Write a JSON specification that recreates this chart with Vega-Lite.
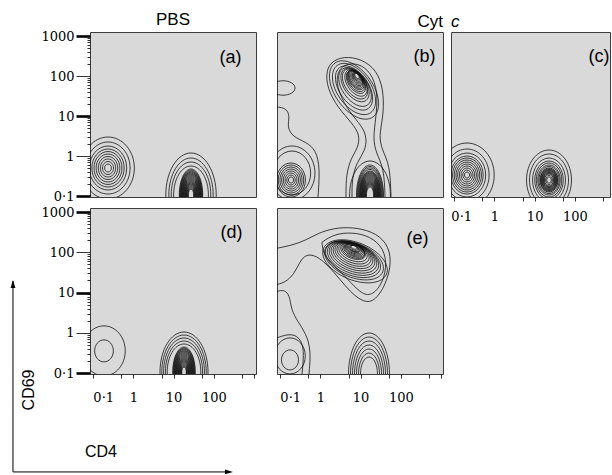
{
  "$schema": "https://vega.github.io/schema/vega-lite/v6.json",
  "background": "white",
  "padding": {"left": 10, "top": 10, "right": 0, "bottom": 0},
  "config": {"view": {"fill": "#d9d9d9", "stroke": "#3c3c3c", "strokeWidth": 1}, "font": "Liberation Sans"},
  "datasets": {
    "rings": [
      {"p":"a","s":"round","x":-0.632,"y":-0.296,"r":0.1},
      {"p":"a","s":"round","x":-0.632,"y":-0.296,"r":0.162},
      {"p":"a","s":"round","x":-0.632,"y":-0.296,"r":0.224},
      {"p":"a","s":"round","x":-0.632,"y":-0.296,"r":0.286},
      {"p":"a","s":"round","x":-0.632,"y":-0.296,"r":0.348},
      {"p":"a","s":"round","x":-0.632,"y":-0.296,"r":0.41},
      {"p":"a","s":"round","x":-0.632,"y":-0.296,"r":0.473},
      {"p":"a","s":"round","x":-0.632,"y":-0.296,"r":0.547},
      {"p":"a","s":"round","x":-0.632,"y":-0.296,"r":0.647},
      {"p":"a","s":"round","x":-0.632,"y":-0.296,"r":0.771},
      {"p":"a","s":"narrow","x":1.433,"y":-0.97,"r":0.149},
      {"p":"a","s":"narrow","x":1.433,"y":-0.97,"r":0.174},
      {"p":"a","s":"narrow","x":1.433,"y":-0.97,"r":0.199},
      {"p":"a","s":"narrow","x":1.433,"y":-0.97,"r":0.224},
      {"p":"a","s":"narrow","x":1.433,"y":-0.97,"r":0.249},
      {"p":"a","s":"narrow","x":1.433,"y":-0.97,"r":0.274},
      {"p":"a","s":"narrow","x":1.433,"y":-0.97,"r":0.299},
      {"p":"a","s":"narrow","x":1.433,"y":-0.97,"r":0.323},
      {"p":"a","s":"narrow","x":1.433,"y":-0.97,"r":0.348},
      {"p":"a","s":"narrow","x":1.433,"y":-0.97,"r":0.373},
      {"p":"a","s":"narrow","x":1.433,"y":-0.97,"r":0.398},
      {"p":"a","s":"narrow","x":1.433,"y":-0.97,"r":0.423},
      {"p":"a","s":"narrow","x":1.433,"y":-0.97,"r":0.448},
      {"p":"a","s":"narrow","x":1.433,"y":-0.97,"r":0.473},
      {"p":"a","s":"narrow","x":1.433,"y":-0.97,"r":0.498},
      {"p":"a","s":"narrow","x":1.433,"y":-0.97,"r":0.522},
      {"p":"a","s":"narrow","x":1.433,"y":-0.97,"r":0.547},
      {"p":"a","s":"narrow","x":1.433,"y":-0.97,"r":0.572},
      {"p":"a","s":"narrow","x":1.433,"y":-0.97,"r":0.597},
      {"p":"a","s":"narrow","x":1.433,"y":-0.97,"r":0.622},
      {"p":"a","s":"narrow","x":1.433,"y":-0.97,"r":0.647},
      {"p":"a","s":"tall","x":1.433,"y":-0.97,"r":0.721},
      {"p":"a","s":"tall","x":1.433,"y":-0.97,"r":0.821},
      {"p":"a","s":"tall","x":1.433,"y":-0.97,"r":0.92},
      {"p":"a","s":"tall","x":1.433,"y":-0.97,"r":1.045},

      {"p":"b","s":"round","x":-0.732,"y":-0.596,"r":0.075},
      {"p":"b","s":"round","x":-0.732,"y":-0.596,"r":0.124},
      {"p":"b","s":"round","x":-0.732,"y":-0.596,"r":0.174},
      {"p":"b","s":"round","x":-0.732,"y":-0.596,"r":0.224},
      {"p":"b","s":"round","x":-0.732,"y":-0.596,"r":0.274},
      {"p":"b","s":"round","x":-0.732,"y":-0.596,"r":0.323},
      {"p":"b","s":"round","x":-0.732,"y":-0.596,"r":0.373},
      {"p":"b","s":"round","x":-0.732,"y":-0.596,"r":0.423},
      {"p":"b","s":"round","x":-0.707,"y":-0.421,"r":0.547},
      {"p":"b","s":"round","x":-0.707,"y":-0.421,"r":0.672},
      {"p":"b","s":"wide","x":-0.931,"y":1.702,"r":0.3},
      {"p":"b","s":"tiltb","x":0.91,"y":2.001,"r":0.075},
      {"p":"b","s":"tiltb","x":0.91,"y":1.99,"r":0.1},
      {"p":"b","s":"tiltb","x":0.91,"y":1.976,"r":0.124},
      {"p":"b","s":"tiltb","x":0.91,"y":1.963,"r":0.149},
      {"p":"b","s":"tiltb","x":0.91,"y":1.951,"r":0.174},
      {"p":"b","s":"tiltb","x":0.898,"y":1.938,"r":0.199},
      {"p":"b","s":"tiltb","x":0.885,"y":1.926,"r":0.224},
      {"p":"b","s":"tiltb","x":0.885,"y":1.913,"r":0.249},
      {"p":"b","s":"tiltb","x":0.885,"y":1.901,"r":0.274},
      {"p":"b","s":"tiltb","x":0.885,"y":1.876,"r":0.299},
      {"p":"b","s":"tiltb","x":0.885,"y":1.851,"r":0.323},
      {"p":"b","s":"tiltb","x":0.885,"y":1.827,"r":0.373},
      {"p":"b","s":"tiltb","x":0.861,"y":1.802,"r":0.423},
      {"p":"b","s":"tiltb","x":0.861,"y":1.777,"r":0.473},
      {"p":"b","s":"tiltb","x":0.861,"y":1.727,"r":0.547},
      {"p":"b","s":"tiltb","x":0.836,"y":1.702,"r":0.622},
      {"p":"b","s":"tiltb","x":0.836,"y":1.677,"r":0.721},
      {"p":"b","s":"tiltb","x":0.836,"y":1.652,"r":0.821},
      {"p":"b","s":"narrow","x":1.234,"y":-0.97,"r":0.199},
      {"p":"b","s":"narrow","x":1.234,"y":-0.97,"r":0.224},
      {"p":"b","s":"narrow","x":1.234,"y":-0.97,"r":0.249},
      {"p":"b","s":"narrow","x":1.234,"y":-0.97,"r":0.274},
      {"p":"b","s":"narrow","x":1.234,"y":-0.97,"r":0.299},
      {"p":"b","s":"narrow","x":1.234,"y":-0.97,"r":0.323},
      {"p":"b","s":"narrow","x":1.234,"y":-0.97,"r":0.348},
      {"p":"b","s":"narrow","x":1.234,"y":-0.97,"r":0.373},
      {"p":"b","s":"narrow","x":1.234,"y":-0.97,"r":0.398},
      {"p":"b","s":"narrow","x":1.234,"y":-0.97,"r":0.423},
      {"p":"b","s":"narrow","x":1.234,"y":-0.97,"r":0.448},
      {"p":"b","s":"narrow","x":1.234,"y":-0.97,"r":0.473},
      {"p":"b","s":"narrow","x":1.234,"y":-0.97,"r":0.498},
      {"p":"b","s":"narrow","x":1.234,"y":-0.97,"r":0.522},
      {"p":"b","s":"narrow","x":1.234,"y":-0.97,"r":0.547},
      {"p":"b","s":"narrow","x":1.234,"y":-0.97,"r":0.572},
      {"p":"b","s":"narrow","x":1.234,"y":-0.97,"r":0.597},
      {"p":"b","s":"narrow","x":1.234,"y":-0.97,"r":0.634},
      {"p":"b","s":"narrow","x":1.234,"y":-0.97,"r":0.672},
      {"p":"b","s":"narrow","x":1.234,"y":-0.97,"r":0.709},
      {"p":"b","s":"narrow","x":1.234,"y":-0.97,"r":0.746},
      {"p":"b","s":"tall","x":1.234,"y":-0.97,"r":0.846},

      {"p":"c","s":"round","x":-0.682,"y":-0.471,"r":0.075},
      {"p":"c","s":"round","x":-0.682,"y":-0.471,"r":0.124},
      {"p":"c","s":"round","x":-0.682,"y":-0.471,"r":0.174},
      {"p":"c","s":"round","x":-0.682,"y":-0.471,"r":0.224},
      {"p":"c","s":"round","x":-0.682,"y":-0.471,"r":0.274},
      {"p":"c","s":"round","x":-0.682,"y":-0.471,"r":0.323},
      {"p":"c","s":"round","x":-0.682,"y":-0.471,"r":0.373},
      {"p":"c","s":"round","x":-0.682,"y":-0.471,"r":0.423},
      {"p":"c","s":"round","x":-0.682,"y":-0.471,"r":0.473},
      {"p":"c","s":"round","x":-0.682,"y":-0.471,"r":0.547},
      {"p":"c","s":"round","x":-0.682,"y":-0.471,"r":0.647},
      {"p":"c","s":"round","x":-0.682,"y":-0.471,"r":0.796},
      {"p":"c","s":"mid","x":1.358,"y":-0.596,"r":0.075},
      {"p":"c","s":"mid","x":1.358,"y":-0.596,"r":0.112},
      {"p":"c","s":"mid","x":1.358,"y":-0.596,"r":0.149},
      {"p":"c","s":"mid","x":1.358,"y":-0.596,"r":0.168},
      {"p":"c","s":"mid","x":1.358,"y":-0.596,"r":0.187},
      {"p":"c","s":"mid","x":1.358,"y":-0.596,"r":0.205},
      {"p":"c","s":"mid","x":1.358,"y":-0.596,"r":0.224},
      {"p":"c","s":"mid","x":1.358,"y":-0.596,"r":0.243},
      {"p":"c","s":"mid","x":1.358,"y":-0.596,"r":0.261},
      {"p":"c","s":"mid","x":1.358,"y":-0.596,"r":0.28},
      {"p":"c","s":"mid","x":1.358,"y":-0.596,"r":0.299},
      {"p":"c","s":"mid","x":1.358,"y":-0.596,"r":0.336},
      {"p":"c","s":"mid","x":1.358,"y":-0.596,"r":0.373},
      {"p":"c","s":"mid","x":1.358,"y":-0.596,"r":0.423},
      {"p":"c","s":"mid","x":1.358,"y":-0.596,"r":0.473},
      {"p":"c","s":"mid","x":1.358,"y":-0.596,"r":0.547},
      {"p":"c","s":"mid","x":1.358,"y":-0.596,"r":0.647},
      {"p":"c","s":"mid","x":1.358,"y":-0.596,"r":0.746},

      {"p":"d","s":"round","x":-0.732,"y":-0.446,"r":0.274},
      {"p":"d","s":"round","x":-0.732,"y":-0.446,"r":0.622},
      {"p":"d","s":"narrow","x":1.259,"y":-0.97,"r":0.124},
      {"p":"d","s":"narrow","x":1.259,"y":-0.97,"r":0.149},
      {"p":"d","s":"narrow","x":1.259,"y":-0.97,"r":0.174},
      {"p":"d","s":"narrow","x":1.259,"y":-0.97,"r":0.199},
      {"p":"d","s":"narrow","x":1.259,"y":-0.97,"r":0.224},
      {"p":"d","s":"narrow","x":1.259,"y":-0.97,"r":0.249},
      {"p":"d","s":"narrow","x":1.259,"y":-0.97,"r":0.274},
      {"p":"d","s":"narrow","x":1.259,"y":-0.97,"r":0.299},
      {"p":"d","s":"narrow","x":1.259,"y":-0.97,"r":0.323},
      {"p":"d","s":"narrow","x":1.259,"y":-0.97,"r":0.348},
      {"p":"d","s":"narrow","x":1.259,"y":-0.97,"r":0.373},
      {"p":"d","s":"narrow","x":1.259,"y":-0.97,"r":0.398},
      {"p":"d","s":"narrow","x":1.259,"y":-0.97,"r":0.423},
      {"p":"d","s":"narrow","x":1.259,"y":-0.97,"r":0.448},
      {"p":"d","s":"narrow","x":1.259,"y":-0.97,"r":0.473},
      {"p":"d","s":"narrow","x":1.259,"y":-0.97,"r":0.498},
      {"p":"d","s":"narrow","x":1.259,"y":-0.97,"r":0.522},
      {"p":"d","s":"narrow","x":1.259,"y":-0.97,"r":0.547},
      {"p":"d","s":"narrow","x":1.259,"y":-0.97,"r":0.572},
      {"p":"d","s":"narrow","x":1.259,"y":-0.97,"r":0.597},
      {"p":"d","s":"narrow","x":1.259,"y":-0.97,"r":0.622},
      {"p":"d","s":"tall","x":1.259,"y":-0.97,"r":0.697},
      {"p":"d","s":"tall","x":1.259,"y":-0.97,"r":0.771},
      {"p":"d","s":"tall","x":1.259,"y":-0.97,"r":0.846},
      {"p":"d","s":"tall","x":1.259,"y":-0.97,"r":0.92},
      {"p":"d","s":"tall","x":1.259,"y":-0.97,"r":0.995},

      {"p":"e","s":"tilte","x":0.836,"y":2.126,"r":0.075},
      {"p":"e","s":"tilte","x":0.836,"y":2.113,"r":0.1},
      {"p":"e","s":"tilte","x":0.836,"y":2.101,"r":0.124},
      {"p":"e","s":"tilte","x":0.836,"y":2.101,"r":0.149},
      {"p":"e","s":"tilte","x":0.836,"y":2.101,"r":0.174},
      {"p":"e","s":"tilte","x":0.836,"y":2.088,"r":0.199},
      {"p":"e","s":"tilte","x":0.836,"y":2.076,"r":0.224},
      {"p":"e","s":"tilte","x":0.836,"y":2.063,"r":0.249},
      {"p":"e","s":"tilte","x":0.836,"y":2.051,"r":0.274},
      {"p":"e","s":"tilte","x":0.823,"y":2.038,"r":0.299},
      {"p":"e","s":"tilte","x":0.811,"y":2.026,"r":0.323},
      {"p":"e","s":"tilte","x":0.811,"y":2.001,"r":0.373},
      {"p":"e","s":"tilte","x":0.811,"y":1.976,"r":0.423},
      {"p":"e","s":"tilte","x":0.811,"y":1.951,"r":0.473},
      {"p":"e","s":"tilte","x":0.811,"y":1.926,"r":0.522},
      {"p":"e","s":"tilte","x":0.811,"y":1.901,"r":0.572},
      {"p":"e","s":"tilte","x":0.811,"y":1.876,"r":0.622},
      {"p":"e","s":"tilte","x":0.811,"y":1.852,"r":0.672},
      {"p":"e","s":"tilte","x":0.811,"y":1.827,"r":0.721},
      {"p":"e","s":"tilte","x":0.836,"y":1.802,"r":0.771},
      {"p":"e","s":"tilte","x":0.861,"y":1.777,"r":0.846},
      {"p":"e","s":"round","x":-0.757,"y":-0.67,"r":0.249},
      {"p":"e","s":"round","x":-0.757,"y":-0.571,"r":0.448},
      {"p":"e","s":"half","x":1.209,"y":-1.02,"r":0.423},
      {"p":"e","s":"half","x":1.209,"y":-1.02,"r":0.522},
      {"p":"e","s":"half","x":1.209,"y":-1.02,"r":0.622},
      {"p":"e","s":"half","x":1.209,"y":-1.02,"r":0.721},
      {"p":"e","s":"half","x":1.209,"y":-1.02,"r":0.821},
      {"p":"e","s":"half","x":1.209,"y":-1.02,"r":0.92},
      {"p":"e","s":"half","x":1.209,"y":-1.02,"r":1.02}
    ],
    "paths": [
      {"p":"b","id":"b1","i":0,"x":0.637,"y":-1.02},
      {"p":"b","id":"b1","i":1,"x":0.637,"y":-0.471},
      {"p":"b","id":"b1","i":2,"x":0.761,"y":-0.046},
      {"p":"b","id":"b1","i":3,"x":0.935,"y":0.204},
      {"p":"b","id":"b1","i":4,"x":0.985,"y":0.528},
      {"p":"b","id":"b1","i":5,"x":0.786,"y":0.828},
      {"p":"b","id":"b1","i":6,"x":0.438,"y":1.202},
      {"p":"b","id":"b1","i":7,"x":0.164,"y":1.702},
      {"p":"b","id":"b1","i":8,"x":0.139,"y":2.151},
      {"p":"b","id":"b1","i":9,"x":0.313,"y":2.401},
      {"p":"b","id":"b1","i":10,"x":0.686,"y":2.501},
      {"p":"b","id":"b1","i":11,"x":1.134,"y":2.376},
      {"p":"b","id":"b1","i":12,"x":1.458,"y":2.051},
      {"p":"b","id":"b1","i":13,"x":1.582,"y":1.527},
      {"p":"b","id":"b1","i":14,"x":1.557,"y":0.953},
      {"p":"b","id":"b1","i":15,"x":1.458,"y":0.503},
      {"p":"b","id":"b1","i":16,"x":1.532,"y":0.154},
      {"p":"b","id":"b1","i":17,"x":1.731,"y":-0.221},
      {"p":"b","id":"b1","i":18,"x":1.756,"y":-1.02},
      {"p":"b","id":"b2","i":0,"x":0.786,"y":-1.02},
      {"p":"b","id":"b2","i":1,"x":0.786,"y":-0.546},
      {"p":"b","id":"b2","i":2,"x":0.91,"y":-0.146},
      {"p":"b","id":"b2","i":3,"x":1.109,"y":0.129},
      {"p":"b","id":"b2","i":4,"x":1.159,"y":0.453},
      {"p":"b","id":"b2","i":5,"x":1.035,"y":0.753},
      {"p":"b","id":"b2","i":6,"x":0.736,"y":1.077},
      {"p":"b","id":"b2","i":7,"x":0.438,"y":1.602},
      {"p":"b","id":"b2","i":8,"x":0.388,"y":2.051},
      {"p":"b","id":"b2","i":9,"x":0.587,"y":2.301},
      {"p":"b","id":"b2","i":10,"x":0.935,"y":2.326},
      {"p":"b","id":"b2","i":11,"x":1.259,"y":2.101},
      {"p":"b","id":"b2","i":12,"x":1.433,"y":1.602},
      {"p":"b","id":"b2","i":13,"x":1.383,"y":0.953},
      {"p":"b","id":"b2","i":14,"x":1.308,"y":0.453},
      {"p":"b","id":"b2","i":15,"x":1.383,"y":0.079},
      {"p":"b","id":"b2","i":16,"x":1.582,"y":-0.296},
      {"p":"b","id":"b2","i":17,"x":1.607,"y":-1.02},
      {"p":"b","id":"b3","i":0,"x":-1.08,"y":1.227},
      {"p":"b","id":"b3","i":1,"x":-0.856,"y":1.202},
      {"p":"b","id":"b3","i":2,"x":-0.757,"y":1.003},
      {"p":"b","id":"b3","i":3,"x":-0.831,"y":0.728},
      {"p":"b","id":"b3","i":4,"x":-0.682,"y":0.478},
      {"p":"b","id":"b3","i":5,"x":-0.358,"y":0.353},
      {"p":"b","id":"b3","i":6,"x":-0.11,"y":0.154},
      {"p":"b","id":"b3","i":7,"x":-0.01,"y":-0.296},
      {"p":"b","id":"b3","i":8,"x":-0.06,"y":-1.02},
      {"p":"e","id":"e1","i":0,"x":-1.08,"y":2.101},
      {"p":"e","id":"e1","i":1,"x":-0.707,"y":2.176},
      {"p":"e","id":"e1","i":2,"x":-0.358,"y":2.301},
      {"p":"e","id":"e1","i":3,"x":-0.06,"y":2.476},
      {"p":"e","id":"e1","i":4,"x":0.338,"y":2.601},
      {"p":"e","id":"e1","i":5,"x":0.786,"y":2.626},
      {"p":"e","id":"e1","i":6,"x":1.284,"y":2.526},
      {"p":"e","id":"e1","i":7,"x":1.657,"y":2.251},
      {"p":"e","id":"e1","i":8,"x":1.781,"y":1.777},
      {"p":"e","id":"e1","i":9,"x":1.632,"y":1.202},
      {"p":"e","id":"e1","i":10,"x":1.333,"y":0.753},
      {"p":"e","id":"e1","i":11,"x":1.035,"y":0.778},
      {"p":"e","id":"e1","i":12,"x":0.736,"y":1.028},
      {"p":"e","id":"e1","i":13,"x":0.487,"y":1.327},
      {"p":"e","id":"e1","i":14,"x":0.189,"y":1.677},
      {"p":"e","id":"e1","i":15,"x":-0.11,"y":1.926},
      {"p":"e","id":"e1","i":16,"x":-0.358,"y":1.951},
      {"p":"e","id":"e1","i":17,"x":-0.508,"y":1.777},
      {"p":"e","id":"e1","i":18,"x":-0.657,"y":1.452},
      {"p":"e","id":"e1","i":19,"x":-0.881,"y":1.252},
      {"p":"e","id":"e1","i":20,"x":-1.08,"y":1.202},
      {"p":"e","id":"e2","i":0,"x":0.04,"y":2.251},
      {"p":"e","id":"e2","i":1,"x":0.338,"y":2.451},
      {"p":"e","id":"e2","i":2,"x":0.786,"y":2.501},
      {"p":"e","id":"e2","i":3,"x":1.234,"y":2.401},
      {"p":"e","id":"e2","i":4,"x":1.582,"y":2.101},
      {"p":"e","id":"e2","i":5,"x":1.657,"y":1.627},
      {"p":"e","id":"e2","i":6,"x":1.507,"y":1.152},
      {"p":"e","id":"e2","i":7,"x":1.234,"y":0.903},
      {"p":"e","id":"e2","i":8,"x":0.985,"y":1.003},
      {"p":"e","id":"e2","i":9,"x":0.686,"y":1.327},
      {"p":"e","id":"e2","i":10,"x":0.338,"y":1.677},
      {"p":"e","id":"e2","i":11,"x":0.065,"y":1.951},
      {"p":"e","id":"e2","i":12,"x":0.04,"y":2.251},
      {"p":"e","id":"e3","i":0,"x":-1.08,"y":1.028},
      {"p":"e","id":"e3","i":1,"x":-0.906,"y":1.077},
      {"p":"e","id":"e3","i":2,"x":-0.757,"y":0.928},
      {"p":"e","id":"e3","i":3,"x":-0.732,"y":0.578},
      {"p":"e","id":"e3","i":4,"x":-0.558,"y":0.278},
      {"p":"e","id":"e3","i":5,"x":-0.358,"y":-0.021},
      {"p":"e","id":"e3","i":6,"x":-0.234,"y":-0.421},
      {"p":"e","id":"e3","i":7,"x":-0.284,"y":-1.02},
      {"p":"e","id":"e4","i":0,"x":-1.08,"y":-0.121},
      {"p":"e","id":"e4","i":1,"x":-0.707,"y":0.004},
      {"p":"e","id":"e4","i":2,"x":-0.458,"y":-0.171},
      {"p":"e","id":"e4","i":3,"x":-0.408,"y":-0.546},
      {"p":"e","id":"e4","i":4,"x":-0.458,"y":-1.02}
    ],
    "tags": [
      {"p":"a","x":2.416,"y":2.451,"t":"(a)"},
      {"p":"b","x":2.59,"y":2.476,"t":"(b)"},
      {"p":"c","x":2.6,"y":2.476,"t":"(c)"},
      {"p":"d","x":2.44,"y":2.476,"t":"(d)"},
      {"p":"e","x":2.416,"y":2.338,"t":"(e)"}
    ],
    "arrows": [
      {"ax":-0.464,"ay":-0.59,"ax2":-0.464,"ay2":0.56},
      {"ax":-0.464,"ay":-0.59,"ax2":0.84,"ay2":-0.59}
    ],
    "heads": [
      {"ax":-0.464,"ay":0.542,"dir":"up"},
      {"ax":0.837,"ay":-0.59,"dir":"right"}
    ],
    "words": [
      {"ax":-0.367,"ay":-0.096,"t":"CD69","o":"v"},
      {"ax":0.066,"ay":-0.47,"t":"CD4","o":"h"}
    ]
  },
  "hconcat": [
    {
      "vconcat": [
        {
          "width": 166, "height": 165,
          "title": {"text": "PBS", "font": "Liberation Sans", "fontSize": 17, "fontWeight": "normal", "color": "#000", "anchor": "middle", "baseline": "alphabetic", "offset": -12},
          "layer": [
            {
              "data": {"name": "rings"}, "transform": [{"filter": "datum.p == 'a'"}],
              "mark": {"type": "point", "filled": false, "stroke": "#111", "strokeWidth": 0.8, "opacity": 1, "clip": true},
              "encoding": {
                "x": {"field": "x", "type": "quantitative", "scale": {"domain": [-1.08, 3.05], "nice": false, "zero": false}, "axis": null},
                "y": {"field": "y", "type": "quantitative", "scale": {"domain": [-1.02, 3.1], "nice": false, "zero": false},
                  "axis": {"values": [-1,-0.699,-0.523,-0.398,-0.301,-0.222,-0.155,-0.097,-0.046,0,0.301,0.477,0.602,0.699,0.778,0.845,0.903,0.954,1,1.301,1.477,1.602,1.699,1.778,1.845,1.903,1.954,2,2.301,2.477,2.602,2.699,2.778,2.845,2.903,2.954,3],
                    "labelExpr": "datum.value == -1 ? '0·1' : datum.value == 0 ? '1' : datum.value == 1 ? '10' : datum.value == 2 ? '100' : datum.value == 3 ? '1000' : ''",
                    "tickSize": {"condition": {"test": "datum.value == -1 || datum.value == 0 || datum.value == 1 || datum.value == 2 || datum.value == 3", "value": 14}, "value": 3},
                    "tickWidth": {"condition": {"test": "datum.value == -1 || datum.value == 1 || datum.value == 3", "value": 2.6}, "value": 0.8},
                    "tickColor": "#000", "labelPadding": 2, "labelFont": "DejaVu Serif", "labelFontSize": 13, "labelColor": "#000",
                    "domain": false, "grid": false, "title": null, "labelOverlap": false, "labelBound": false, "labelFlush": false}},
                "size": {"field": "r", "type": "quantitative", "scale": {"type": "pow", "exponent": 2, "domain": [0, 1], "range": [0, 6464]}, "legend": null},
                "shape": {"field": "s", "type": "nominal", "legend": null, "scale": {"domain": ["round","tall","tiltb","tilte","wide","mid","narrow","half"], "range": [
                  "M0.85,0C0.85,0.552,0.469,1,0,1C-0.469,1,-0.85,0.552,-0.85,0C-0.85,-0.552,-0.469,-1,0,-1C0.469,-1,0.85,-0.552,0.85,0Z",
                  "M0.6,0C0.6,0.552,0.331,1,0,1C-0.331,1,-0.6,0.552,-0.6,0C-0.6,-0.552,-0.331,-1,0,-1C0.331,-1,0.6,-0.552,0.6,0Z",
                  "M0.574,0.819C0.312,1.003,-0.158,0.785,-0.475,0.333C-0.792,-0.119,-0.836,-0.635,-0.574,-0.819C-0.312,-1.003,0.158,-0.785,0.475,-0.333C0.792,0.119,0.836,0.635,0.574,0.819Z",
                  "M0.927,0.375C0.813,0.657,0.306,0.717,-0.206,0.51C-0.718,0.303,-1.041,-0.093,-0.927,-0.375C-0.813,-0.657,-0.306,-0.717,0.206,-0.51C0.718,-0.303,1.041,0.093,0.927,0.375Z",
                  "M1,0C1,0.331,0.552,0.6,0,0.6C-0.552,0.6,-1,0.331,-1,0C-1,-0.331,-0.552,-0.6,0,-0.6C0.552,-0.6,1,-0.331,1,0Z",
                  "M0.75,0C0.75,0.552,0.414,1,0,1C-0.414,1,-0.75,0.552,-0.75,0C-0.75,-0.552,-0.414,-1,0,-1C0.414,-1,0.75,-0.552,0.75,0Z",
                  "M0.45,0C0.45,0.552,0.249,1,0,1C-0.249,1,-0.45,0.552,-0.45,0C-0.45,-0.552,-0.249,-1,0,-1C0.249,-1,0.45,-0.552,0.45,0Z",
                  "M0.5,0C0.5,0.552,0.276,1,0,1C-0.276,1,-0.5,0.552,-0.5,0C-0.5,-0.552,-0.276,-1,0,-1C0.276,-1,0.5,-0.552,0.5,0Z"]}}
              }
            },
            {
              "data": {"name": "tags"}, "transform": [{"filter": "datum.p == 'a'"}],
              "mark": {"type": "text", "font": "Liberation Sans", "fontSize": 18, "align": "center", "baseline": "middle", "color": "#000"},
              "encoding": {
                "x": {"field": "x", "type": "quantitative", "scale": {"domain": [-1.08, 3.05], "nice": false, "zero": false}, "axis": null},
                "y": {"field": "y", "type": "quantitative", "scale": {"domain": [-1.02, 3.1], "nice": false, "zero": false},
                  "axis": {"values": [-1,-0.699,-0.523,-0.398,-0.301,-0.222,-0.155,-0.097,-0.046,0,0.301,0.477,0.602,0.699,0.778,0.845,0.903,0.954,1,1.301,1.477,1.602,1.699,1.778,1.845,1.903,1.954,2,2.301,2.477,2.602,2.699,2.778,2.845,2.903,2.954,3],
                    "labelExpr": "datum.value == -1 ? '0·1' : datum.value == 0 ? '1' : datum.value == 1 ? '10' : datum.value == 2 ? '100' : datum.value == 3 ? '1000' : ''",
                    "tickSize": {"condition": {"test": "datum.value == -1 || datum.value == 0 || datum.value == 1 || datum.value == 2 || datum.value == 3", "value": 14}, "value": 3},
                    "tickWidth": {"condition": {"test": "datum.value == -1 || datum.value == 1 || datum.value == 3", "value": 2.6}, "value": 0.8},
                    "tickColor": "#000", "labelPadding": 2, "labelFont": "DejaVu Serif", "labelFontSize": 13, "labelColor": "#000",
                    "domain": false, "grid": false, "title": null, "labelOverlap": false, "labelBound": false, "labelFlush": false}},
                "text": {"field": "t"}
              }
            }
          ]
        },
        {
          "width": 166, "height": 166,
          "layer": [
            {
              "layer": [
                {
                  "data": {"name": "rings"}, "transform": [{"filter": "datum.p == 'd'"}],
                  "mark": {"type": "point", "filled": false, "stroke": "#111", "strokeWidth": 0.8, "opacity": 1, "clip": true},
                  "encoding": {
                    "x": {"field": "x", "type": "quantitative", "scale": {"domain": [-1.08, 3.05], "nice": false, "zero": false},
                      "axis": {"values": [-1,-0.301,0,0.699,1,1.699,2,2.699,3],
                        "labelExpr": "datum.value == -1 ? '0·1' : datum.value == 0 ? '1' : datum.value == 1 ? '10' : datum.value == 2 ? '100' : ''",
                        "tickSize": 4, "tickWidth": 0.8, "tickColor": "#000", "labelPadding": 13,
                        "labelOffset": {"condition": {"test": "datum.value == -1", "value": 10}, "value": 0},
                        "labelFont": "DejaVu Serif", "labelFontSize": 13, "labelColor": "#000",
                        "domain": false, "grid": false, "title": null, "labelOverlap": false, "labelBound": false, "labelFlush": false}},
                    "y": {"field": "y", "type": "quantitative", "scale": {"domain": [-1.02, 3.1], "nice": false, "zero": false},
                      "axis": {"values": [-1,-0.699,-0.523,-0.398,-0.301,-0.222,-0.155,-0.097,-0.046,0,0.301,0.477,0.602,0.699,0.778,0.845,0.903,0.954,1,1.301,1.477,1.602,1.699,1.778,1.845,1.903,1.954,2,2.301,2.477,2.602,2.699,2.778,2.845,2.903,2.954,3],
                        "labelExpr": "datum.value == -1 ? '0·1' : datum.value == 0 ? '1' : datum.value == 1 ? '10' : datum.value == 2 ? '100' : datum.value == 3 ? '1000' : ''",
                        "tickSize": {"condition": {"test": "datum.value == -1 || datum.value == 0 || datum.value == 1 || datum.value == 2 || datum.value == 3", "value": 14}, "value": 3},
                        "tickWidth": {"condition": {"test": "datum.value == -1 || datum.value == 1 || datum.value == 3", "value": 2.6}, "value": 0.8},
                        "tickColor": "#000", "labelPadding": 2, "labelFont": "DejaVu Serif", "labelFontSize": 13, "labelColor": "#000",
                        "domain": false, "grid": false, "title": null, "labelOverlap": false, "labelBound": false, "labelFlush": false}},
                    "size": {"field": "r", "type": "quantitative", "scale": {"type": "pow", "exponent": 2, "domain": [0, 1], "range": [0, 6464]}, "legend": null},
                    "shape": {"field": "s", "type": "nominal", "legend": null, "scale": {"domain": ["round","tall","tiltb","tilte","wide","mid","narrow","half"], "range": [
                      "M0.85,0C0.85,0.552,0.469,1,0,1C-0.469,1,-0.85,0.552,-0.85,0C-0.85,-0.552,-0.469,-1,0,-1C0.469,-1,0.85,-0.552,0.85,0Z",
                      "M0.6,0C0.6,0.552,0.331,1,0,1C-0.331,1,-0.6,0.552,-0.6,0C-0.6,-0.552,-0.331,-1,0,-1C0.331,-1,0.6,-0.552,0.6,0Z",
                      "M0.574,0.819C0.312,1.003,-0.158,0.785,-0.475,0.333C-0.792,-0.119,-0.836,-0.635,-0.574,-0.819C-0.312,-1.003,0.158,-0.785,0.475,-0.333C0.792,0.119,0.836,0.635,0.574,0.819Z",
                      "M0.927,0.375C0.813,0.657,0.306,0.717,-0.206,0.51C-0.718,0.303,-1.041,-0.093,-0.927,-0.375C-0.813,-0.657,-0.306,-0.717,0.206,-0.51C0.718,-0.303,1.041,0.093,0.927,0.375Z",
                      "M1,0C1,0.331,0.552,0.6,0,0.6C-0.552,0.6,-1,0.331,-1,0C-1,-0.331,-0.552,-0.6,0,-0.6C0.552,-0.6,1,-0.331,1,0Z",
                      "M0.75,0C0.75,0.552,0.414,1,0,1C-0.414,1,-0.75,0.552,-0.75,0C-0.75,-0.552,-0.414,-1,0,-1C0.414,-1,0.75,-0.552,0.75,0Z",
                      "M0.45,0C0.45,0.552,0.249,1,0,1C-0.249,1,-0.45,0.552,-0.45,0C-0.45,-0.552,-0.249,-1,0,-1C0.249,-1,0.45,-0.552,0.45,0Z",
                      "M0.5,0C0.5,0.552,0.276,1,0,1C-0.276,1,-0.5,0.552,-0.5,0C-0.5,-0.552,-0.276,-1,0,-1C0.276,-1,0.5,-0.552,0.5,0Z"]}}
                  }
                },
                {
                  "data": {"name": "tags"}, "transform": [{"filter": "datum.p == 'd'"}],
                  "mark": {"type": "text", "font": "Liberation Sans", "fontSize": 18, "align": "center", "baseline": "middle", "color": "#000"},
                  "encoding": {
                    "x": {"field": "x", "type": "quantitative", "scale": {"domain": [-1.08, 3.05], "nice": false, "zero": false},
                      "axis": {"values": [-1,-0.301,0,0.699,1,1.699,2,2.699,3],
                        "labelExpr": "datum.value == -1 ? '0·1' : datum.value == 0 ? '1' : datum.value == 1 ? '10' : datum.value == 2 ? '100' : ''",
                        "tickSize": 4, "tickWidth": 0.8, "tickColor": "#000", "labelPadding": 13,
                        "labelOffset": {"condition": {"test": "datum.value == -1", "value": 10}, "value": 0},
                        "labelFont": "DejaVu Serif", "labelFontSize": 13, "labelColor": "#000",
                        "domain": false, "grid": false, "title": null, "labelOverlap": false, "labelBound": false, "labelFlush": false}},
                    "y": {"field": "y", "type": "quantitative", "scale": {"domain": [-1.02, 3.1], "nice": false, "zero": false},
                      "axis": {"values": [-1,-0.699,-0.523,-0.398,-0.301,-0.222,-0.155,-0.097,-0.046,0,0.301,0.477,0.602,0.699,0.778,0.845,0.903,0.954,1,1.301,1.477,1.602,1.699,1.778,1.845,1.903,1.954,2,2.301,2.477,2.602,2.699,2.778,2.845,2.903,2.954,3],
                        "labelExpr": "datum.value == -1 ? '0·1' : datum.value == 0 ? '1' : datum.value == 1 ? '10' : datum.value == 2 ? '100' : datum.value == 3 ? '1000' : ''",
                        "tickSize": {"condition": {"test": "datum.value == -1 || datum.value == 0 || datum.value == 1 || datum.value == 2 || datum.value == 3", "value": 14}, "value": 3},
                        "tickWidth": {"condition": {"test": "datum.value == -1 || datum.value == 1 || datum.value == 3", "value": 2.6}, "value": 0.8},
                        "tickColor": "#000", "labelPadding": 2, "labelFont": "DejaVu Serif", "labelFontSize": 13, "labelColor": "#000",
                        "domain": false, "grid": false, "title": null, "labelOverlap": false, "labelBound": false, "labelFlush": false}},
                    "text": {"field": "t"}
                  }
                }
              ]
            },
            {
              "layer": [
                {
                  "data": {"name": "arrows"},
                  "mark": {"type": "rule", "color": "#000", "strokeWidth": 1},
                  "encoding": {
                    "x": {"field": "ax", "type": "quantitative", "scale": {"domain": [0, 1], "nice": false, "zero": false}, "axis": null},
                    "y": {"field": "ay", "type": "quantitative", "scale": {"domain": [0, 1], "nice": false, "zero": false}, "axis": null},
                    "x2": {"field": "ax2"},
                    "y2": {"field": "ay2"}
                  }
                },
                {
                  "data": {"name": "heads"}, "transform": [{"filter": "datum.dir == 'up'"}],
                  "mark": {"type": "point", "filled": true, "color": "#000", "opacity": 1, "size": 64, "shape": "M0,-1L0.6,1L-0.6,1Z"},
                  "encoding": {
                    "x": {"field": "ax", "type": "quantitative", "scale": {"domain": [0, 1], "nice": false, "zero": false}, "axis": null},
                    "y": {"field": "ay", "type": "quantitative", "scale": {"domain": [0, 1], "nice": false, "zero": false}, "axis": null}
                  }
                },
                {
                  "data": {"name": "heads"}, "transform": [{"filter": "datum.dir == 'right'"}],
                  "mark": {"type": "point", "filled": true, "color": "#000", "opacity": 1, "size": 64, "shape": "M1,0L-1,0.6L-1,-0.6Z"},
                  "encoding": {
                    "x": {"field": "ax", "type": "quantitative", "scale": {"domain": [0, 1], "nice": false, "zero": false}, "axis": null},
                    "y": {"field": "ay", "type": "quantitative", "scale": {"domain": [0, 1], "nice": false, "zero": false}, "axis": null}
                  }
                },
                {
                  "data": {"name": "words"}, "transform": [{"filter": "datum.o == 'v'"}],
                  "mark": {"type": "text", "font": "Liberation Sans", "fontSize": 16, "angle": 270, "align": "center", "baseline": "middle", "color": "#000"},
                  "encoding": {
                    "x": {"field": "ax", "type": "quantitative", "scale": {"domain": [0, 1], "nice": false, "zero": false}, "axis": null},
                    "y": {"field": "ay", "type": "quantitative", "scale": {"domain": [0, 1], "nice": false, "zero": false}, "axis": null},
                    "text": {"field": "t"}
                  }
                },
                {
                  "data": {"name": "words"}, "transform": [{"filter": "datum.o == 'h'"}],
                  "mark": {"type": "text", "font": "Liberation Sans", "fontSize": 16, "align": "center", "baseline": "middle", "color": "#000"},
                  "encoding": {
                    "x": {"field": "ax", "type": "quantitative", "scale": {"domain": [0, 1], "nice": false, "zero": false}, "axis": null},
                    "y": {"field": "ay", "type": "quantitative", "scale": {"domain": [0, 1], "nice": false, "zero": false}, "axis": null},
                    "text": {"field": "t"}
                  }
                }
              ]
            }
          ],
          "resolve": {"scale": {"x": "independent", "y": "independent"}}
        }
      ],
      "spacing": 11,
      "bounds": "flush"
    },
    {
      "hconcat": [
        {
          "vconcat": [
            {
              "width": 166, "height": 165,
              "title": {"text": "Cyt", "font": "Liberation Sans", "fontSize": 17, "fontWeight": "normal", "color": "#000", "anchor": "end", "dx": 0, "baseline": "alphabetic", "offset": -12},
              "layer": [
                {
                  "data": {"name": "rings"}, "transform": [{"filter": "datum.p == 'b'"}],
                  "mark": {"type": "point", "filled": false, "stroke": "#111", "strokeWidth": 0.8, "opacity": 1, "clip": true},
                  "encoding": {
                    "x": {"field": "x", "type": "quantitative", "scale": {"domain": [-1.08, 3.05], "nice": false, "zero": false}, "axis": null},
                    "y": {"field": "y", "type": "quantitative", "scale": {"domain": [-1.02, 3.1], "nice": false, "zero": false}, "axis": null},
                    "size": {"field": "r", "type": "quantitative", "scale": {"type": "pow", "exponent": 2, "domain": [0, 1], "range": [0, 6464]}, "legend": null},
                    "shape": {"field": "s", "type": "nominal", "legend": null, "scale": {"domain": ["round","tall","tiltb","tilte","wide","mid","narrow","half"], "range": [
                      "M0.85,0C0.85,0.552,0.469,1,0,1C-0.469,1,-0.85,0.552,-0.85,0C-0.85,-0.552,-0.469,-1,0,-1C0.469,-1,0.85,-0.552,0.85,0Z",
                      "M0.6,0C0.6,0.552,0.331,1,0,1C-0.331,1,-0.6,0.552,-0.6,0C-0.6,-0.552,-0.331,-1,0,-1C0.331,-1,0.6,-0.552,0.6,0Z",
                      "M0.574,0.819C0.312,1.003,-0.158,0.785,-0.475,0.333C-0.792,-0.119,-0.836,-0.635,-0.574,-0.819C-0.312,-1.003,0.158,-0.785,0.475,-0.333C0.792,0.119,0.836,0.635,0.574,0.819Z",
                      "M0.927,0.375C0.813,0.657,0.306,0.717,-0.206,0.51C-0.718,0.303,-1.041,-0.093,-0.927,-0.375C-0.813,-0.657,-0.306,-0.717,0.206,-0.51C0.718,-0.303,1.041,0.093,0.927,0.375Z",
                      "M1,0C1,0.331,0.552,0.6,0,0.6C-0.552,0.6,-1,0.331,-1,0C-1,-0.331,-0.552,-0.6,0,-0.6C0.552,-0.6,1,-0.331,1,0Z",
                      "M0.75,0C0.75,0.552,0.414,1,0,1C-0.414,1,-0.75,0.552,-0.75,0C-0.75,-0.552,-0.414,-1,0,-1C0.414,-1,0.75,-0.552,0.75,0Z",
                      "M0.45,0C0.45,0.552,0.249,1,0,1C-0.249,1,-0.45,0.552,-0.45,0C-0.45,-0.552,-0.249,-1,0,-1C0.249,-1,0.45,-0.552,0.45,0Z",
                      "M0.5,0C0.5,0.552,0.276,1,0,1C-0.276,1,-0.5,0.552,-0.5,0C-0.5,-0.552,-0.276,-1,0,-1C0.276,-1,0.5,-0.552,0.5,0Z"]}}
                  }
                },
                {
                  "data": {"name": "paths"}, "transform": [{"filter": "datum.p == 'b'"}],
                  "mark": {"type": "line", "interpolate": "basis", "stroke": "#111", "strokeWidth": 0.8, "clip": true},
                  "encoding": {
                    "x": {"field": "x", "type": "quantitative", "scale": {"domain": [-1.08, 3.05], "nice": false, "zero": false}, "axis": null},
                    "y": {"field": "y", "type": "quantitative", "scale": {"domain": [-1.02, 3.1], "nice": false, "zero": false}, "axis": null},
                    "detail": {"field": "id"},
                    "order": {"field": "i", "type": "quantitative"}
                  }
                },
                {
                  "data": {"name": "tags"}, "transform": [{"filter": "datum.p == 'b'"}],
                  "mark": {"type": "text", "font": "Liberation Sans", "fontSize": 18, "align": "center", "baseline": "middle", "color": "#000"},
                  "encoding": {
                    "x": {"field": "x", "type": "quantitative", "scale": {"domain": [-1.08, 3.05], "nice": false, "zero": false}, "axis": null},
                    "y": {"field": "y", "type": "quantitative", "scale": {"domain": [-1.02, 3.1], "nice": false, "zero": false}, "axis": null},
                    "text": {"field": "t"}
                  }
                }
              ]
            },
            {
              "width": 166, "height": 166,
              "layer": [
                {
                  "data": {"name": "rings"}, "transform": [{"filter": "datum.p == 'e'"}],
                  "mark": {"type": "point", "filled": false, "stroke": "#111", "strokeWidth": 0.8, "opacity": 1, "clip": true},
                  "encoding": {
                    "x": {"field": "x", "type": "quantitative", "scale": {"domain": [-1.08, 3.05], "nice": false, "zero": false},
                      "axis": {"values": [-1,-0.301,0,0.699,1,1.699,2,2.699,3],
                        "labelExpr": "datum.value == -1 ? '0·1' : datum.value == 0 ? '1' : datum.value == 1 ? '10' : datum.value == 2 ? '100' : ''",
                        "tickSize": 4, "tickWidth": 0.8, "tickColor": "#000", "labelPadding": 13,
                        "labelOffset": {"condition": {"test": "datum.value == -1", "value": 10}, "value": 0},
                        "labelFont": "DejaVu Serif", "labelFontSize": 13, "labelColor": "#000",
                        "domain": false, "grid": false, "title": null, "labelOverlap": false, "labelBound": false, "labelFlush": false}},
                    "y": {"field": "y", "type": "quantitative", "scale": {"domain": [-1.02, 3.1], "nice": false, "zero": false}, "axis": null},
                    "size": {"field": "r", "type": "quantitative", "scale": {"type": "pow", "exponent": 2, "domain": [0, 1], "range": [0, 6464]}, "legend": null},
                    "shape": {"field": "s", "type": "nominal", "legend": null, "scale": {"domain": ["round","tall","tiltb","tilte","wide","mid","narrow","half"], "range": [
                      "M0.85,0C0.85,0.552,0.469,1,0,1C-0.469,1,-0.85,0.552,-0.85,0C-0.85,-0.552,-0.469,-1,0,-1C0.469,-1,0.85,-0.552,0.85,0Z",
                      "M0.6,0C0.6,0.552,0.331,1,0,1C-0.331,1,-0.6,0.552,-0.6,0C-0.6,-0.552,-0.331,-1,0,-1C0.331,-1,0.6,-0.552,0.6,0Z",
                      "M0.574,0.819C0.312,1.003,-0.158,0.785,-0.475,0.333C-0.792,-0.119,-0.836,-0.635,-0.574,-0.819C-0.312,-1.003,0.158,-0.785,0.475,-0.333C0.792,0.119,0.836,0.635,0.574,0.819Z",
                      "M0.927,0.375C0.813,0.657,0.306,0.717,-0.206,0.51C-0.718,0.303,-1.041,-0.093,-0.927,-0.375C-0.813,-0.657,-0.306,-0.717,0.206,-0.51C0.718,-0.303,1.041,0.093,0.927,0.375Z",
                      "M1,0C1,0.331,0.552,0.6,0,0.6C-0.552,0.6,-1,0.331,-1,0C-1,-0.331,-0.552,-0.6,0,-0.6C0.552,-0.6,1,-0.331,1,0Z",
                      "M0.75,0C0.75,0.552,0.414,1,0,1C-0.414,1,-0.75,0.552,-0.75,0C-0.75,-0.552,-0.414,-1,0,-1C0.414,-1,0.75,-0.552,0.75,0Z",
                      "M0.45,0C0.45,0.552,0.249,1,0,1C-0.249,1,-0.45,0.552,-0.45,0C-0.45,-0.552,-0.249,-1,0,-1C0.249,-1,0.45,-0.552,0.45,0Z",
                      "M0.5,0C0.5,0.552,0.276,1,0,1C-0.276,1,-0.5,0.552,-0.5,0C-0.5,-0.552,-0.276,-1,0,-1C0.276,-1,0.5,-0.552,0.5,0Z"]}}
                  }
                },
                {
                  "data": {"name": "paths"}, "transform": [{"filter": "datum.p == 'e'"}],
                  "mark": {"type": "line", "interpolate": "basis", "stroke": "#111", "strokeWidth": 0.8, "clip": true},
                  "encoding": {
                    "x": {"field": "x", "type": "quantitative", "scale": {"domain": [-1.08, 3.05], "nice": false, "zero": false},
                      "axis": {"values": [-1,-0.301,0,0.699,1,1.699,2,2.699,3],
                        "labelExpr": "datum.value == -1 ? '0·1' : datum.value == 0 ? '1' : datum.value == 1 ? '10' : datum.value == 2 ? '100' : ''",
                        "tickSize": 4, "tickWidth": 0.8, "tickColor": "#000", "labelPadding": 13,
                        "labelOffset": {"condition": {"test": "datum.value == -1", "value": 10}, "value": 0},
                        "labelFont": "DejaVu Serif", "labelFontSize": 13, "labelColor": "#000",
                        "domain": false, "grid": false, "title": null, "labelOverlap": false, "labelBound": false, "labelFlush": false}},
                    "y": {"field": "y", "type": "quantitative", "scale": {"domain": [-1.02, 3.1], "nice": false, "zero": false}, "axis": null},
                    "detail": {"field": "id"},
                    "order": {"field": "i", "type": "quantitative"}
                  }
                },
                {
                  "data": {"name": "tags"}, "transform": [{"filter": "datum.p == 'e'"}],
                  "mark": {"type": "text", "font": "Liberation Sans", "fontSize": 18, "align": "center", "baseline": "middle", "color": "#000"},
                  "encoding": {
                    "x": {"field": "x", "type": "quantitative", "scale": {"domain": [-1.08, 3.05], "nice": false, "zero": false},
                      "axis": {"values": [-1,-0.301,0,0.699,1,1.699,2,2.699,3],
                        "labelExpr": "datum.value == -1 ? '0·1' : datum.value == 0 ? '1' : datum.value == 1 ? '10' : datum.value == 2 ? '100' : ''",
                        "tickSize": 4, "tickWidth": 0.8, "tickColor": "#000", "labelPadding": 13,
                        "labelOffset": {"condition": {"test": "datum.value == -1", "value": 10}, "value": 0},
                        "labelFont": "DejaVu Serif", "labelFontSize": 13, "labelColor": "#000",
                        "domain": false, "grid": false, "title": null, "labelOverlap": false, "labelBound": false, "labelFlush": false}},
                    "y": {"field": "y", "type": "quantitative", "scale": {"domain": [-1.02, 3.1], "nice": false, "zero": false}, "axis": null},
                    "text": {"field": "t"}
                  }
                }
              ]
            }
          ],
          "spacing": 11,
          "bounds": "flush"
        },
        {
          "width": 159, "height": 165,
          "title": {"text": "c", "font": "Liberation Sans", "fontSize": 17, "fontWeight": "normal", "fontStyle": "italic", "color": "#000", "anchor": "start", "dx": 0, "baseline": "alphabetic", "offset": -12},
          "layer": [
            {
              "data": {"name": "rings"}, "transform": [{"filter": "datum.p == 'c'"}],
              "mark": {"type": "point", "filled": false, "stroke": "#111", "strokeWidth": 0.8, "opacity": 1, "clip": true},
              "encoding": {
                "x": {"field": "x", "type": "quantitative", "scale": {"domain": [-1.08, 2.875], "nice": false, "zero": false},
                  "axis": {"values": [-1,-0.301,0,0.699,1,1.699,2,2.699],
                    "labelExpr": "datum.value == -1 ? '0·1' : datum.value == 0 ? '1' : datum.value == 1 ? '10' : datum.value == 2 ? '100' : ''",
                    "tickSize": 4, "tickWidth": 0.8, "tickColor": "#000", "labelPadding": 9,
                    "labelOffset": {"condition": {"test": "datum.value == -1", "value": 7}, "value": 0},
                    "labelFont": "DejaVu Serif", "labelFontSize": 13, "labelColor": "#000",
                    "domain": false, "grid": false, "title": null, "labelOverlap": false, "labelBound": false, "labelFlush": false}},
                "y": {"field": "y", "type": "quantitative", "scale": {"domain": [-1.02, 3.1], "nice": false, "zero": false}, "axis": null},
                "size": {"field": "r", "type": "quantitative", "scale": {"type": "pow", "exponent": 2, "domain": [0, 1], "range": [0, 6464]}, "legend": null},
                "shape": {"field": "s", "type": "nominal", "legend": null, "scale": {"domain": ["round","tall","tiltb","tilte","wide","mid","narrow","half"], "range": [
                  "M0.85,0C0.85,0.552,0.469,1,0,1C-0.469,1,-0.85,0.552,-0.85,0C-0.85,-0.552,-0.469,-1,0,-1C0.469,-1,0.85,-0.552,0.85,0Z",
                  "M0.6,0C0.6,0.552,0.331,1,0,1C-0.331,1,-0.6,0.552,-0.6,0C-0.6,-0.552,-0.331,-1,0,-1C0.331,-1,0.6,-0.552,0.6,0Z",
                  "M0.574,0.819C0.312,1.003,-0.158,0.785,-0.475,0.333C-0.792,-0.119,-0.836,-0.635,-0.574,-0.819C-0.312,-1.003,0.158,-0.785,0.475,-0.333C0.792,0.119,0.836,0.635,0.574,0.819Z",
                  "M0.927,0.375C0.813,0.657,0.306,0.717,-0.206,0.51C-0.718,0.303,-1.041,-0.093,-0.927,-0.375C-0.813,-0.657,-0.306,-0.717,0.206,-0.51C0.718,-0.303,1.041,0.093,0.927,0.375Z",
                  "M1,0C1,0.331,0.552,0.6,0,0.6C-0.552,0.6,-1,0.331,-1,0C-1,-0.331,-0.552,-0.6,0,-0.6C0.552,-0.6,1,-0.331,1,0Z",
                  "M0.75,0C0.75,0.552,0.414,1,0,1C-0.414,1,-0.75,0.552,-0.75,0C-0.75,-0.552,-0.414,-1,0,-1C0.414,-1,0.75,-0.552,0.75,0Z",
                  "M0.45,0C0.45,0.552,0.249,1,0,1C-0.249,1,-0.45,0.552,-0.45,0C-0.45,-0.552,-0.249,-1,0,-1C0.249,-1,0.45,-0.552,0.45,0Z",
                  "M0.5,0C0.5,0.552,0.276,1,0,1C-0.276,1,-0.5,0.552,-0.5,0C-0.5,-0.552,-0.276,-1,0,-1C0.276,-1,0.5,-0.552,0.5,0Z"]}}
              }
            },
            {
              "data": {"name": "tags"}, "transform": [{"filter": "datum.p == 'c'"}],
              "mark": {"type": "text", "font": "Liberation Sans", "fontSize": 18, "align": "center", "baseline": "middle", "color": "#000"},
              "encoding": {
                "x": {"field": "x", "type": "quantitative", "scale": {"domain": [-1.08, 2.875], "nice": false, "zero": false},
                  "axis": {"values": [-1,-0.301,0,0.699,1,1.699,2,2.699],
                    "labelExpr": "datum.value == -1 ? '0·1' : datum.value == 0 ? '1' : datum.value == 1 ? '10' : datum.value == 2 ? '100' : ''",
                    "tickSize": 4, "tickWidth": 0.8, "tickColor": "#000", "labelPadding": 9,
                    "labelOffset": {"condition": {"test": "datum.value == -1", "value": 7}, "value": 0},
                    "labelFont": "DejaVu Serif", "labelFontSize": 13, "labelColor": "#000",
                    "domain": false, "grid": false, "title": null, "labelOverlap": false, "labelBound": false, "labelFlush": false}},
                "y": {"field": "y", "type": "quantitative", "scale": {"domain": [-1.02, 3.1], "nice": false, "zero": false}, "axis": null},
                "text": {"field": "t"}
              }
            }
          ]
        }
      ],
      "spacing": 6
    }
  ],
  "spacing": 19
}
